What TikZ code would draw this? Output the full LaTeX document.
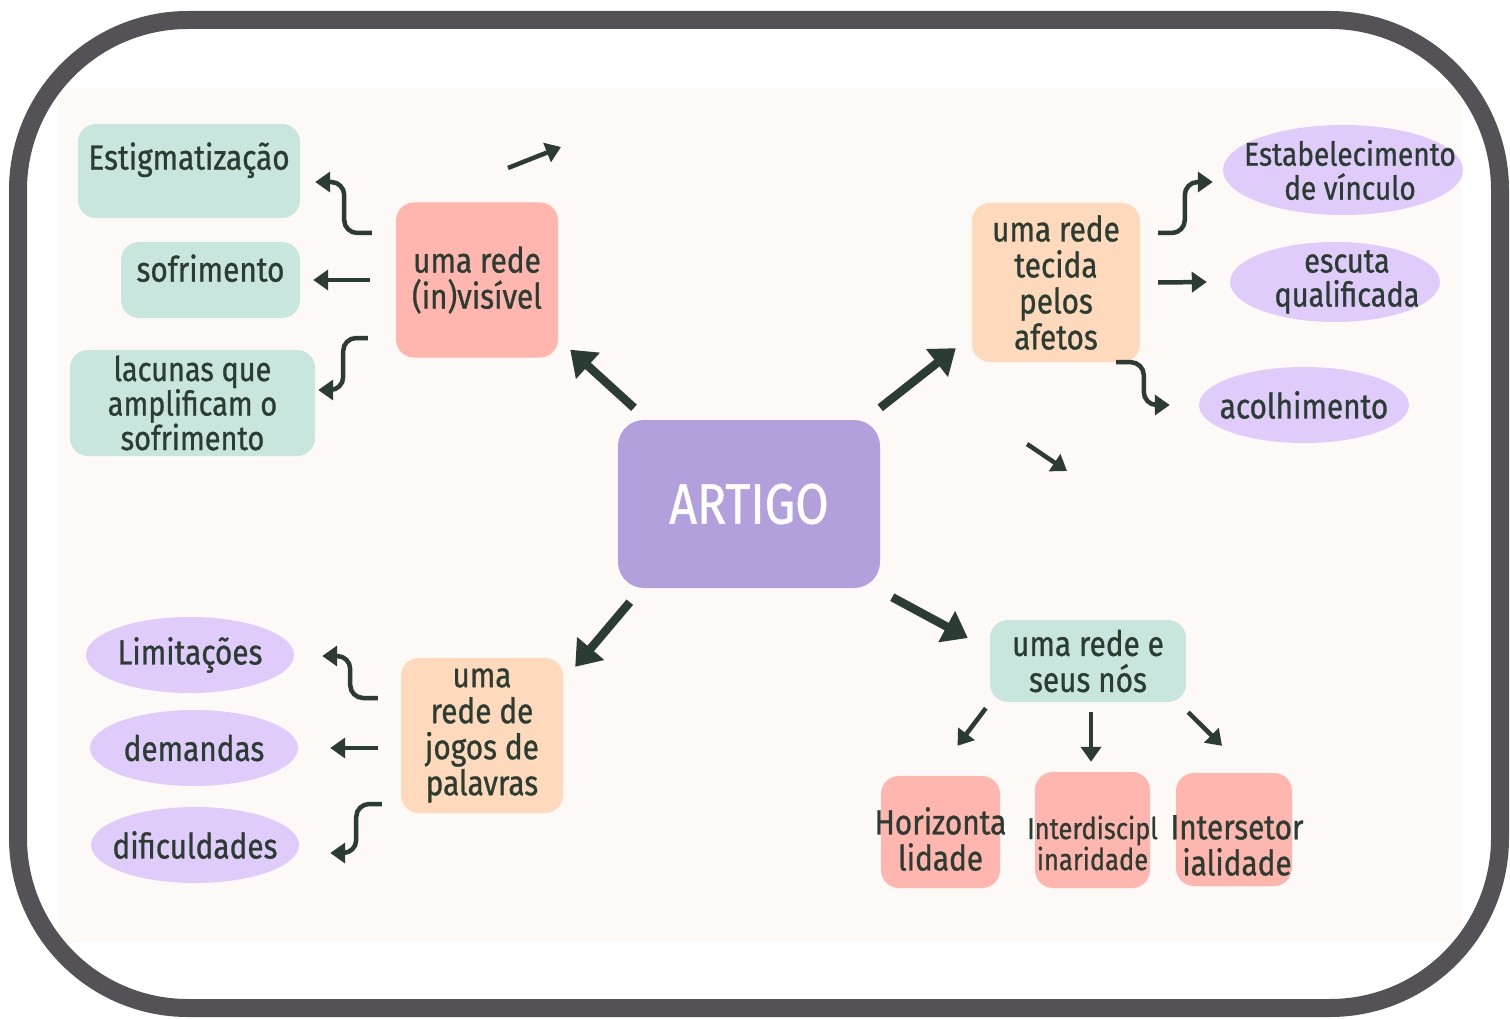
\documentclass[tikz,border=0pt]{standalone}
\usepackage{fontspec}
\setmainfont{Fira Sans}[FakeStretch=0.85, FakeBold=0.8]
\usetikzlibrary{arrows.meta,calc,shapes.geometric}
\definecolor{framec}{HTML}{545256}
\definecolor{cream}{HTML}{FDF9F6}
\definecolor{purp}{HTML}{B2A0DC}
\definecolor{pinkc}{HTML}{FEB6AE}
\definecolor{peach}{HTML}{FFD9BB}
\definecolor{mint}{HTML}{C9E6DE}
\definecolor{lav}{HTML}{E0CCFA}
\definecolor{ink}{HTML}{2B3D33}
\tikzset{
  txt/.style={text=ink, font=\fontsize{35}{36}\selectfont, align=center},
  box/.style={txt, rounded corners=18pt, inner sep=0pt},
  ell/.style={ellipse, fill=lav, inner sep=0pt},
  arr/.style={draw=ink, line width=4.5pt, -{Triangle[length=15pt,width=20pt]}, fill=none},
  bigarr/.style={draw=ink, line width=8.5pt, -{Triangle[length=24pt,width=34pt]}},
  curvarr/.style={arr, rounded corners=13pt}
}
\begin{document}
\begin{tikzpicture}[x=1pt,y=-1pt]
\useasboundingbox (0,0) rectangle (1510,1019);
\fill[white] (0,0) rectangle (1510,1019);
\fill[cream] (58,88) rectangle (1462,942);
\draw[framec, line width=18pt, rounded corners=170pt] (18,20) rectangle (1500,1008);

% centre
\node[box, fill=purp, text=white, font=\fontsize{57}{60}\selectfont, minimum width=262pt, minimum height=168pt, rounded corners=26pt] (art) at (749,504) {ARTIGO};

% top-left group
\node[box, fill=pinkc, minimum width=162pt, minimum height=155pt] (inv) at (477,280) {uma rede\\(in)visível};
\node[box, fill=mint, minimum width=222pt, minimum height=94pt, text depth=30pt] (est) at (189,171) {Estigmatização};
\node[box, fill=mint, minimum width=179pt, minimum height=76pt, text depth=24pt] (sof) at (210.5,280) {sofrimento};
\node[box, fill=mint, minimum width=245pt, minimum height=106pt, font=\fontsize{34}{34.5}\selectfont] (lac) at (192.5,403) {lacunas que\\amplificam o\\sofrimento};

% top-right group
\node[box, fill=peach, minimum width=168pt, minimum height=159pt] (tec) at (1056,282.5) {uma rede\\tecida\\pelos\\afetos};
\node[ell, minimum width=240pt, minimum height=90pt, label={[txt, font=\fontsize{33}{34}\selectfont, xshift=7pt]center:Estabelecimento\\de vínculo}] (vin) at (1343,170) {};
\node[ell, minimum width=210pt, minimum height=80pt, label={[txt, font=\fontsize{34}{34}\selectfont, xshift=12pt]center:escuta\\qualificada}] (esc) at (1335,282) {};
\node[ell, minimum width=210pt, minimum height=76pt, label={[txt]center:acolhimento}] (aco) at (1304,405) {};

% bottom-right group
\node[box, fill=mint, minimum width=196pt, minimum height=82pt] (nos) at (1088,661) {uma rede e\\seus nós};
\node[box, fill=pinkc, minimum width=119pt, minimum height=112pt, label={[txt, yshift=-7pt]center:Horizonta\\lidade}] (hor) at (940.5,832) {};
\node[box, fill=pinkc, minimum width=115pt, minimum height=116pt, label={[txt, font=\fontsize{30}{31}\selectfont, yshift=-13pt]center:Interdiscipl\\inaridade}] (int) at (1092.5,830) {};
\node[box, fill=pinkc, minimum width=116pt, minimum height=113pt, label={[txt, yshift=-16pt, xshift=3pt]center:Intersetor\\ialidade}] (ise) at (1234,829.5) {};

% bottom-left group
\node[box, fill=peach, minimum width=162pt, minimum height=155pt] (jog) at (482,735.5) {uma\\rede de\\jogos de\\palavras};
\node[ell, minimum width=208pt, minimum height=76pt, label={[txt]center:Limitações}] (lim) at (190,655) {};
\node[ell, minimum width=208pt, minimum height=76pt, label={[txt]center:demandas}] (dem) at (194,748) {};
\node[ell, minimum width=208pt, minimum height=76pt, label={[txt]center:dificuldades}] (dif) at (195,845) {};

% stray arrows
\coordinate (s1a) at (508,168);
\coordinate (s1b) at (561,147);
\coordinate (s2a) at (1027,444);
\coordinate (s2b) at (1067,471);
\draw[arr] (s1a) -- (s1b);
\draw[arr] (s2a) -- (s2b);

% big arrows from centre
\draw[bigarr] ($(art.north)+(-115,-12)$) -- ($(inv.south east)+(12,-8)$);
\draw[bigarr] ($(art.north east)+(0,-12)$) -- ($(tec.south west)+(-16,-14)$);
\draw[bigarr] ($(art.south east)+(12,9)$) -- ($(nos.west)+(-22,-23)$);
\draw[bigarr] ($(art.south west)+(12,14)$) -- ($(jog.north east)+(12,9)$);

% top-left connectors
\draw[curvarr] ($(inv.west)+(-24,-47)$) -| ($(est.east)+(44,11)$) -- ($(est.east)+(15,11)$);
\draw[arr] ($(inv.west)+(-26,0)$) -- ($(sof.east)+(13,0)$);
\draw[curvarr] ($(inv.west)+(-28,58)$) -| ($(lac.east)+(28,-13)$) -- ($(lac.east)+(3,-13)$);

% top-right connectors
\draw[curvarr] ($(tec.east)+(18,-49.5)$) -| ($(vin.west)+(-38,12)$) -- ($(vin.west)+(-10,12)$);
\draw[arr] ($(tec.east)+(18,0)$) -- ($(esc.west)+(-23,0)$);
\draw[curvarr] ($(tec.south)+(60,0)$) -| ($(aco.west)+(-55,0)$) -- ($(aco.west)+(-29,0)$);

% bottom-right connectors
\draw[arr] ($(nos.south west)+(-4,6)$) -- ($(hor.north)+(17,-30)$);
\draw[arr] ($(nos.south)+(3,10)$) -- ($(int.north)+(-1.5,-10)$);
\draw[arr] ($(nos.south east)+(2,10)$) -- ($(ise.north)+(-12,-27)$);

% bottom-left connectors
\draw[curvarr] ($(jog.west)+(-23,-37.5)$) -| ($(lim.east)+(56,1)$) -- ($(lim.east)+(28,1)$);
\draw[arr] ($(jog.west)+(-23,12.5)$) -- ($(dem.east)+(32,0)$);
\draw[curvarr] ($(jog.west)+(-19,68.5)$) -| ($(dif.east)+(57,8)$) -- ($(dif.east)+(31,8)$);
\end{tikzpicture}
\end{document}
